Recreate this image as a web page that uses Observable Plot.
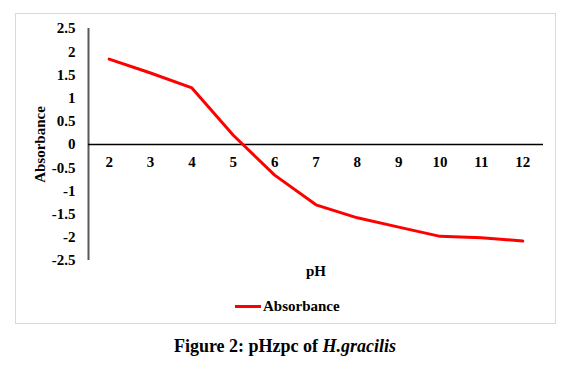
<!DOCTYPE html>
<html><head><meta charset="utf-8">
<script src="https://cdn.jsdelivr.net/npm/d3@7"></script>
<script src="https://cdn.jsdelivr.net/npm/@observablehq/plot@0.6"></script>
<style>
body{margin:0;background:#fff;font-family:"Liberation Serif",serif;}
#wrap{position:relative;width:568px;height:368px;overflow:hidden;}
#box{position:absolute;left:15px;top:13px;width:541px;height:311px;border:1px solid #d9d9d9;box-sizing:border-box;}
#chart{position:absolute;left:0;top:0;}
.lab{position:absolute;font-weight:bold;font-size:15px;line-height:15px;color:#000;white-space:nowrap;font-family:"Liberation Serif",serif;}
#cap{position:absolute;left:0;width:570px;top:337px;line-height:18px;text-align:center;font-weight:bold;font-size:18px;font-family:"Liberation Serif",serif;}
</style></head>
<body><div id="wrap"><div id="box"></div><div id="chart"></div>
<div class="lab" id="xl" style="left:306px;top:264px;">pH</div>
<div class="lab" style="left:235px;top:299px;"><span style="display:inline-block;width:26px;height:3px;background:#ff0000;vertical-align:middle;margin-right:2px;position:relative;top:-1px;"></span>Absorbance</div>
<div id="cap">Figure 2: pHzpc of <i>H.gracilis</i></div>
</div>
<script>
const pH = [2,3,4,5,6,7,8,9,10,11,12];
const absorbance = [1.84,1.54,1.22,0.2,-0.66,-1.30,-1.58,-1.78,-1.98,-2.01,-2.08];
const yTicks = [-2.5,-2,-1.5,-1,-0.5,0,0.5,1,1.5,2,2.5];
const xTicks = pH;
const data = pH.map((p,i)=>({pH:p, a:absorbance[i]}));
const font = '"Liberation Serif",serif';
const chart = Plot.plot({
  width:568, height:290,
  marginLeft:88, marginRight:25, marginTop:28, marginBottom:30,
  style:{fontFamily:font, fontSize:"15px", fontWeight:"bold", color:"#000", background:"transparent"},
  x:{domain:[1.5,12.5], axis:null},
  y:{domain:[-2.5,2.5], label:null, axis:null},
  marks:[
    Plot.axisY({ticks:yTicks, tickSize:0, tickPadding:13, label:null, tickFormat:d=>String(d), fontWeight:"bold", fontSize:15, fontFamily:font}),
    Plot.ruleX([1.5], {stroke:"#595959", strokeWidth:2}),
    Plot.ruleY([0], {stroke:"#000", strokeWidth:1.5}),
    Plot.text(xTicks, {x:d=>d, y:0, dy:18, text:d=>String(d), fontWeight:"bold", fontSize:15, fontFamily:font}),
    Plot.line(data, {x:"pH", y:"a", stroke:"#ff0000", strokeWidth:3}),
    Plot.text(["Absorbance"], {frameAnchor:"left", textAnchor:"middle", dx:-48, rotate:-90, text:d=>d, fontWeight:"bold", fontSize:15, fontFamily:font})
  ]
});
document.getElementById("chart").appendChild(chart);
</script></body></html>
